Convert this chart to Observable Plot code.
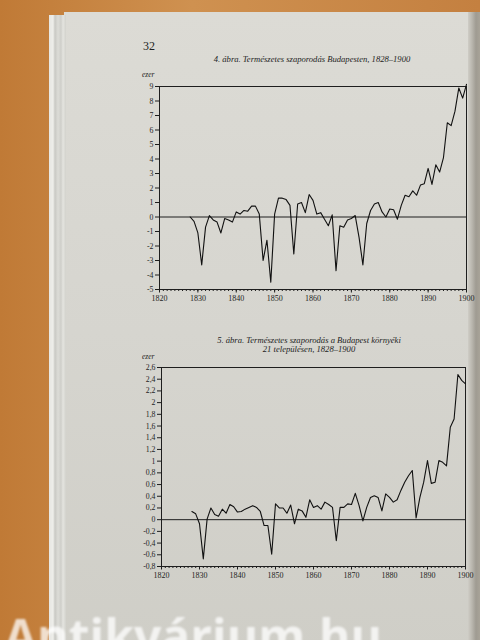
<!DOCTYPE html>
<html>
<head>
<meta charset="utf-8">
<script src="https://cdn.jsdelivr.net/npm/d3@7"></script>
<script src="https://cdn.jsdelivr.net/npm/@observablehq/plot@0.6"></script>
<style>
  html, body { margin: 0; padding: 0; }
  body { width: 480px; height: 640px; overflow: hidden; position: relative;
         background: linear-gradient(90deg, #c07a36 0%, #cf9150 40%, #c48040 100%);
         font-family: "Liberation Serif", "DejaVu Serif", serif; color: #1e1e1e; }
  #page { position: absolute; left: 64px; top: 12px; width: 416px; height: 640px;
          background: linear-gradient(180deg, #dcdbd5 0%, #d6d5cf 50%, #cfcec7 100%); }
  #stack { position: absolute; left: 49px; top: 15px; width: 17px; height: 640px;
           background: linear-gradient(90deg, #e6e6e2 0px, #eeeeea 4px, #c9c9c4 6px, #dcdcd7 9px, #cfcfca 12px, #e4e4df 14px, #d2d2cc 17px); }
  #edge { position: absolute; left: 468px; top: 12px; width: 12px; height: 640px;
          background: linear-gradient(90deg, #cfcdc6 0px, #b9b6ae 4px, #9f9b92 8px, #a8a398 12px); }
  .abs { position: absolute; }
  .title { font-style: italic; font-size: 8.6px; text-align: center; width: 300px; line-height: 9px; }
  .ezer { font-size: 7.5px; font-style: italic; }
  #wm { position: absolute; left: 4px; top: 612px; font-family: "Open Sans", "DejaVu Sans", sans-serif;
        font-weight: 700; font-size: 48px; line-height: 48px; color: rgba(255,255,255,0.75); white-space: nowrap;
        filter: blur(1px); }
</style>
</head>
<body>
<div id="page"></div>
<div id="stack"></div>
<div id="edge"></div>
<div class="abs" style="left:143px; top:39px; font-size:12px;">32</div>
<div class="abs title" style="left:162px; top:55px;">4. ábra. Természetes szaporodás Budapesten, 1828–1900</div>
<div class="abs ezer" style="left:142px; top:70px;">ezer</div>
<div class="abs title" style="left:159px; top:336px;">5. ábra. Természetes szaporodás a Budapest környéki<br>21 településen, 1828–1900</div>
<div class="abs ezer" style="left:142px; top:352px;">ezer</div>
<div id="c1" class="abs" style="left:0; top:72px;"></div>
<div id="c2" class="abs" style="left:0; top:355px;"></div>
<div id="wm">Antikvárium.hu</div>
<script>
// Years 1828–1900
const years = [1828,1829,1830,1831,1832,1833,1834,1835,1836,1837,1838,1839,1840,1841,1842,1843,1844,1845,1846,1847,1848,1849,
  1850,1851,1852,1853,1854,1855,1856,1857,1858,1859,1860,1861,1862,1863,1864,1865,1866,1867,1868,1869,
  1870,1871,1872,1873,1874,1875,1876,1877,1878,1879,1880,1881,1882,1883,1884,1885,1886,1887,1888,1889,
  1890,1891,1892,1893,1894,1895,1896,1897,1898,1899,1900];

// 4. ábra: Budapest (ezer)
const budapest = [0,-0.3,-1.1,-3.3,-0.7,0.1,-0.2,-0.35,-1.1,-0.1,-0.2,-0.35,0.35,0.2,0.45,0.4,0.75,0.75,0.2,-3.0,-1.6,-4.5,
  0.2,1.3,1.3,1.2,0.8,-2.55,0.9,1.0,0.3,1.55,1.15,0.2,0.3,-0.15,-0.6,0.15,-3.7,-0.6,-0.7,-0.2,
  -0.1,0.1,-1.4,-3.3,-0.45,0.45,0.9,1.0,0.35,0.0,0.55,0.5,-0.15,0.8,1.5,1.4,1.8,1.5,2.2,2.3,
  3.35,2.25,3.6,3.1,4.1,6.5,6.3,7.3,8.9,8.2,9.15];

// 5. ábra: Budapest környéki 21 település (ezer)
const kornyek = [0.14,0.1,-0.07,-0.67,0.01,0.2,0.09,0.06,0.18,0.11,0.26,0.22,0.13,0.14,0.18,0.21,0.24,0.21,0.14,-0.1,-0.1,-0.59,
  0.27,0.2,0.2,0.11,0.25,-0.07,0.18,0.15,0.04,0.34,0.21,0.24,0.18,0.3,0.26,0.21,-0.36,0.21,0.21,0.27,
  0.26,0.45,0.24,-0.02,0.21,0.38,0.41,0.38,0.15,0.44,0.38,0.3,0.34,0.5,0.64,0.75,0.84,0.03,0.38,0.64,
  1.01,0.62,0.64,1.01,0.98,0.92,1.58,1.72,2.48,2.38,2.32];

const yTicks1 = [-5,-4,-3,-2,-1,0,1,2,3,4,5,6,7,8,9];
const yTicks2 = [-0.8,-0.6,-0.4,-0.2,0,0.2,0.4,0.6,0.8,1,1.2,1.4,1.6,1.8,2,2.2,2.4,2.6];
const xTicksMajor = [1820,1830,1840,1850,1860,1870,1880,1890,1900];
const xTicksMinor = d3.range(1820, 1901);

const fmt = d => String(d).replace(".", ",");

function chart(values, yDomain, yTicks, opts) {
  const data = years.map((y, i) => ({year: y, v: values[i]}));
  return Plot.plot({
    width: 480,
    height: opts.height,
    marginLeft: opts.ml, marginRight: opts.mr, marginTop: opts.mt, marginBottom: opts.mb,
    style: {background: "transparent", fontFamily: "Liberation Serif, serif", fontSize: "8px", color: "#1e1e1e"},
    x: {domain: [1820, 1900]},
    y: {domain: yDomain},
    marks: [
      Plot.axisX({ticks: xTicksMinor, tickSize: 2, tickFormat: () => "", label: null}),
      Plot.axisX({ticks: xTicksMajor, tickSize: 3.5, tickPadding: 2, tickFormat: d => String(d), label: null, fontSize: 8}),
      Plot.axisY({ticks: yTicks, tickSize: 4, tickPadding: 2, tickFormat: fmt, label: null, fontSize: 7.8}),
      Plot.frame({stroke: "#1e1e1e", strokeWidth: 1}),
      Plot.ruleY([0], {stroke: "#1e1e1e", strokeWidth: 1}),
      Plot.line(data, {x: "year", y: "v", stroke: "#111", strokeWidth: 1.1})
    ]
  });
}

document.getElementById("c1").append(
  chart(budapest, [-5, 9], yTicks1, {height: 238, ml: 159, mr: 14, mt: 14, mb: 21})
);
document.getElementById("c2").append(
  chart(kornyek, [-0.8, 2.6], yTicks2, {height: 234, ml: 161, mr: 15, mt: 12, mb: 23})
);
</script>
</body>
</html>
